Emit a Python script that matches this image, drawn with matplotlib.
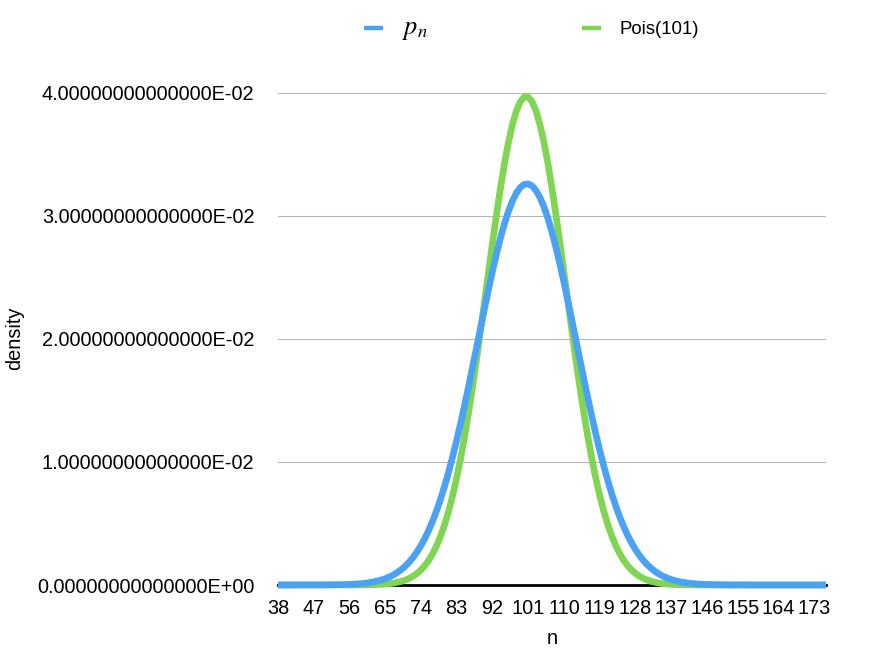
import matplotlib
matplotlib.use("Agg")
import matplotlib.pyplot as plt
from matplotlib.lines import Line2D
from matplotlib.ticker import FuncFormatter

plt.rcParams['font.family'] = ['Liberation Sans', 'DejaVu Sans']
plt.rcParams['mathtext.fontset'] = 'stix'

######### Data #########
n_vals = list(range(38, 177))

p_n = [
    0.0000001, 0.0000001, 0.0000002, 0.0000003, 0.0000004, 0.0000006, 0.0000009, 0.000001, 0.000002, 0.000003,
    0.000004, 0.000006, 0.000008, 0.000011, 0.000015, 0.000020, 0.000027, 0.000037, 0.000049, 0.000066,
    0.000087, 0.000115, 0.000149, 0.000194, 0.000250, 0.000321, 0.000408, 0.000517, 0.000649, 0.000812,
    0.001008, 0.001241, 0.001521, 0.001851, 0.002237, 0.002689, 0.003210, 0.003806, 0.004483, 0.005247,
    0.006100, 0.007049, 0.008091, 0.009227, 0.010455, 0.011769, 0.013161, 0.014625, 0.016143, 0.017707,
    0.019296, 0.020887, 0.022468, 0.024007, 0.025487, 0.026883, 0.028173, 0.029331, 0.030341, 0.031181,
    0.031836, 0.032295, 0.032548, 0.032590, 0.032421, 0.032044, 0.031466, 0.030697, 0.029754, 0.028652,
    0.027413, 0.026058, 0.024607, 0.023088, 0.021522, 0.019932, 0.018338, 0.016765, 0.015227, 0.013740,
    0.012317, 0.010971, 0.009708, 0.008535, 0.007456, 0.006469, 0.005578, 0.004778, 0.004066, 0.003439,
    0.002888, 0.002410, 0.001999, 0.001646, 0.001348, 0.001096, 0.000885, 0.000711, 0.000567, 0.000449,
    0.000353, 0.000276, 0.000215, 0.000166, 0.000127, 0.000097, 0.000073, 0.000055, 0.000041, 0.000030,
    0.000022, 0.000016, 0.000011, 0.000008, 0.000006, 0.000004, 0.000003, 0.000002, 0.000001, 0.000001,
    0.000001, 0.0000005, 0.0000003, 0.0000002, 0.0000001, 0.0, 0.0, 0.0, 0.0, 0.0,
    0.0, 0.0, 0.0, 0.0, 0.0, 0.0, 0.0, 0.0, 0.0,
]

pois_101 = [
    0.0, 0.0, 0.0, 0.0, 0.0, 0.0, 0.0, 0.0, 0.0, 0.0,
    0.0, 0.0, 0.0, 0.0, 0.0, 0.0, 0.0, 0.000001, 0.000001, 0.000002,
    0.000004, 0.000007, 0.000011, 0.000017, 0.000026, 0.000038, 0.000054, 0.000078, 0.000110, 0.000153,
    0.000213, 0.000292, 0.000397, 0.000534, 0.000712, 0.000940, 0.001228, 0.001587, 0.002033, 0.002579,
    0.003238, 0.004027, 0.004958, 0.006044, 0.007293, 0.008717, 0.010314, 0.012085, 0.014022, 0.016105,
    0.018318, 0.020629, 0.023002, 0.025397, 0.027762, 0.030050, 0.032209, 0.034179, 0.035913, 0.037364,
    0.038490, 0.039260, 0.039651, 0.039651, 0.039260, 0.038490, 0.037364, 0.035913, 0.034179, 0.032209,
    0.030050, 0.027762, 0.025397, 0.023002, 0.020629, 0.018318, 0.016105, 0.014022, 0.012085, 0.010314,
    0.008717, 0.007293, 0.006044, 0.004958, 0.004027, 0.003238, 0.002579, 0.002033, 0.001587, 0.001228,
    0.000940, 0.000712, 0.000534, 0.000397, 0.000292, 0.000213, 0.000153, 0.000110, 0.000078, 0.000054,
    0.000038, 0.000026, 0.000017, 0.000011, 0.000007, 0.000004, 0.000002, 0.000002, 0.000001, 0.000001,
    0.0, 0.0, 0.0, 0.0, 0.0, 0.0, 0.0, 0.0, 0.0, 0.0,
    0.0, 0.0, 0.0, 0.0, 0.0, 0.0, 0.0, 0.0, 0.0, 0.0,
    0.0, 0.0, 0.0, 0.0, 0.0, 0.0, 0.0, 0.0, 0.0,
]

x_ticks = list(range(38, 174, 9))
y_ticks = [0.0, 0.01, 0.02, 0.03, 0.04]

BLUE = '#4ba2f5'
GREEN = '#80d552'
FS = 14.3

######### Plot #########
fig = plt.figure(figsize=(8.92, 6.54), dpi=100)
ax = fig.add_axes([0.3117, 0.1055, 0.6143, 0.7528])

ax.plot(n_vals, pois_101, color=GREEN, lw=4.8, solid_capstyle='butt',
        solid_joinstyle='round', clip_on=False, zorder=3)
ax.plot(n_vals, p_n, color=BLUE, lw=4.8, solid_capstyle='butt',
        solid_joinstyle='round', clip_on=False, zorder=4)

ax.set_xlim(38, 176)
ax.set_ylim(0, 0.04)
ax.set_xticks(x_ticks)
ax.set_yticks(y_ticks)
ax.yaxis.set_major_formatter(FuncFormatter(lambda v, pos: f'{v:.14E}'))
ax.tick_params(axis='both', length=0, labelsize=FS)
ax.tick_params(axis='y', pad=17)
ax.tick_params(axis='x', pad=10)

ax.grid(axis='y', color='#b8b8b8', lw=0.8)
ax.set_axisbelow(True)
for side in ['top', 'right', 'left']:
    ax.spines[side].set_visible(False)
ax.spines['bottom'].set_color('black')
ax.spines['bottom'].set_linewidth(2)
ax.spines['bottom'].set_zorder(2)

ax.set_xlabel('n', fontsize=FS, labelpad=8)
fig.text(15 / 892, 0.482, 'density', rotation=90, fontsize=FS, ha='center', va='center')

handles = [
    Line2D([], [], color=BLUE, lw=3.2, solid_capstyle='butt'),
    Line2D([], [], color=GREEN, lw=3.2, solid_capstyle='butt'),
]
leg = ax.legend(handles, ['$p_n$', 'Pois(101)'], loc='center',
                bbox_to_anchor=(0.596, 0.9557), bbox_transform=fig.transFigure,
                ncol=2, frameon=False, fontsize=13.4, handlelength=1.0,
                handletextpad=1.0, columnspacing=8.3)
leg.get_texts()[0].set_fontsize(19)

fig.savefig('out.png', dpi=100)
